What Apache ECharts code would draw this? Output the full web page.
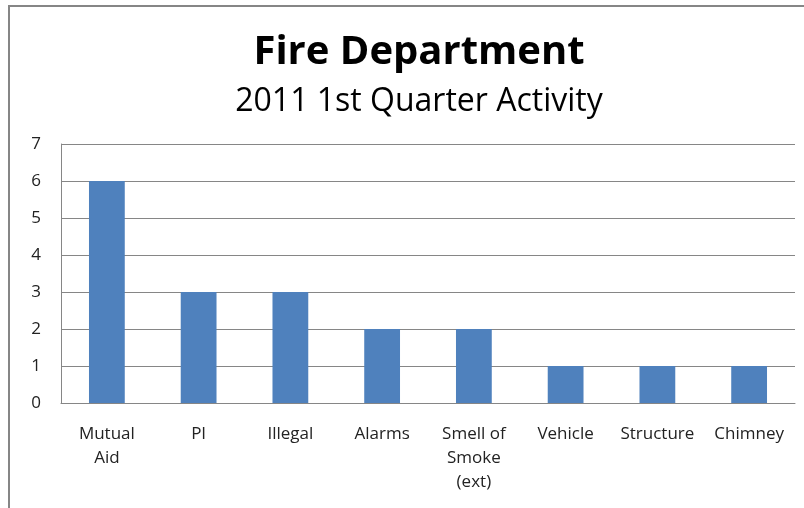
<!DOCTYPE html>
<html><head><meta charset="utf-8">
<script src="https://cdn.jsdelivr.net/npm/echarts@6/dist/echarts.min.js"></script>
<style>html,body{margin:0;padding:0;background:#fff}#c{width:804px;height:508px}</style>
</head><body><div id="c"></div>
<script>
const categories = ['Mutual\nAid', 'PI', 'Illegal', 'Alarms', 'Smell of\nSmoke\n(ext)', 'Vehicle', 'Structure', 'Chimney'];
const values = [6, 3, 3, 2, 2, 1, 1, 1];
const titleText = 'Fire Department';
const subtitleText = '2011 1st Quarter Activity';

const font = '"Open Sans", sans-serif';
const chart = echarts.init(document.getElementById('c'));
chart.setOption({
  animation: false,
  backgroundColor: '#fff',
  graphic: [{
    type: 'polyline', shape: { points: [[9, 600], [9, 6], [900, 6]] },
    style: { stroke: '#868686', lineWidth: 2, fill: null }
  }],
  title: [{
    text: titleText, left: 414, top: 28, textAlign: 'center',
    textStyle: { fontFamily: font, fontWeight: 'bold', fontSize: 40, color: '#000' }
  }, {
    text: subtitleText, left: 414, top: 81, textAlign: 'center',
    textStyle: { fontFamily: font, fontWeight: 'normal', fontSize: 32, color: '#000' }
  }],
  grid: { left: 61, right: 9, top: 144, bottom: 105, containLabel: false },
  xAxis: {
    type: 'category', data: categories,
    axisLine: { show: true, lineStyle: { color: '#868686' } },
    axisTick: { show: false },
    axisLabel: { fontFamily: font, fontSize: 17, color: '#222', margin: 19, lineHeight: 24, interval: 0 }
  },
  yAxis: {
    type: 'value', min: 0, max: 7, interval: 1,
    axisLine: { show: true, lineStyle: { color: '#868686' } },
    axisTick: { show: false },
    splitLine: { lineStyle: { color: '#868686', width: 1 } },
    axisLabel: { fontFamily: font, fontSize: 17, color: '#222', margin: 20 }
  },
  series: [{
    type: 'bar', data: values, barWidth: '39%',
    itemStyle: { color: '#4f81bd' }
  }]
});
</script></body></html>
